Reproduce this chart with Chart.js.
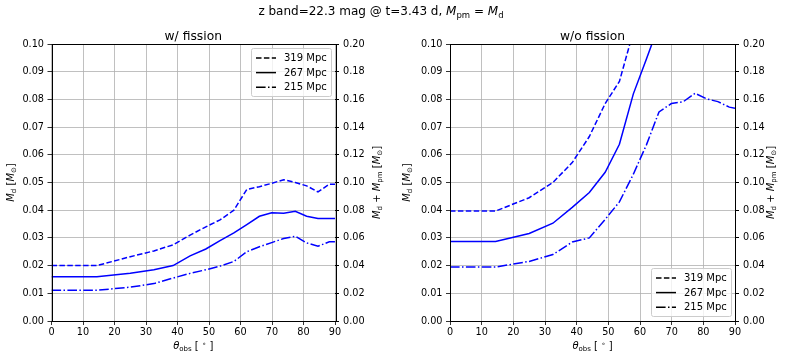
<!DOCTYPE html>
<html>
<head>
<meta charset="utf-8">
<script src="https://cdn.jsdelivr.net/npm/chart.js@4/dist/chart.umd.min.js"></script>
<style>
  body { margin: 0; background: #fff; font-family: "DejaVu Sans", sans-serif; }
  #wrap { position: relative; width: 788px; height: 360px; }
  canvas { position: absolute; top: 0; }
  #c1 { left: 0; }
  #c2 { left: 394px; }
  #title { position: absolute; top: 4px; left: -13px; width: 788px; text-align: center; font-size: 12px; color: #000; }
  #title sub { font-size: 8.5px; vertical-align: -3px; line-height: 0; }
</style>
</head>
<body>
<div id="wrap">
  <canvas id="c1" width="394" height="360"></canvas>
  <canvas id="c2" width="394" height="360"></canvas>
  <div id="title">z band=22.3 mag @ t=3.43 d, <i>M</i><sub>pm</sub> = <i>M</i><sub>d</sub></div>
</div>
<script>
// viewing angle (deg)
const theta = [0, 14.4, 25.0, 32.5, 38.6, 44.0, 49.0, 53.5, 57.9, 62.0, 66.0, 69.9, 73.7, 77.4, 81.0, 84.6, 88.2, 90];
const distances = ['319 Mpc', '267 Mpc', '215 Mpc'];

// w/ fission, M_d [Msun]
const fis319 = [0.020, 0.020, 0.0232, 0.0253, 0.0275, 0.031, 0.034, 0.0365, 0.040, 0.0475, 0.0485, 0.0497, 0.051, 0.050, 0.0488, 0.0466, 0.0494, 0.0494];
const fis267 = [0.016, 0.016, 0.0172, 0.0185, 0.020, 0.0235, 0.026, 0.029, 0.0318, 0.0348, 0.0378, 0.0391, 0.0389, 0.0396, 0.0378, 0.037, 0.037, 0.037];
const fis215 = [0.0111, 0.0111, 0.0122, 0.0135, 0.0155, 0.0172, 0.0185, 0.0198, 0.0215, 0.025, 0.0268, 0.0283, 0.0298, 0.0306, 0.0282, 0.027, 0.0286, 0.0286];

// w/o fission
const nofis319 = [0.0397, 0.0397, 0.0445, 0.050, 0.0572, 0.0666, 0.0785, 0.0865, 0.1045, null, null, null, null, null, null, null, null, null];
const nofis267 = [0.0287, 0.0287, 0.0316, 0.0353, 0.041, 0.0464, 0.0537, 0.0638, 0.082, 0.0945, 0.107, null, null, null, null, null, null, null];
const nofis215 = [0.0195, 0.0195, 0.0215, 0.024, 0.0285, 0.030, 0.0367, 0.043, 0.053, 0.0635, 0.0755, 0.0785, 0.0792, 0.0822, 0.0802, 0.0792, 0.0772, 0.0768];

const dashes = [[5.5, 2.4], [], [9.6, 2.4, 1.5, 2.4]];
const FONT = '"DejaVu Sans"';

function pts(arr) {
  return theta.map((t, i) => ({ x: t, y: arr[i] }));
}

// text with italic parts and subscripts
function richText(ctx, parts, x, y, size, rot) {
  ctx.save();
  ctx.translate(x, y);
  if (rot) ctx.rotate(rot);
  const fontFor = k => (k.includes('i') ? 'italic ' : '') + (k.includes('s') || k.includes('u') ? size * 0.7 : size) + 'px ' + FONT;
  let w = 0;
  for (const [t, k] of parts) { ctx.font = fontFor(k); w += ctx.measureText(t).width; }
  let cx = -w / 2;
  ctx.fillStyle = '#000';
  ctx.textBaseline = 'alphabetic';
  ctx.textAlign = 'left';
  for (const [t, k] of parts) {
    ctx.font = fontFor(k);
    let dy = 0;
    if (k.includes('s')) dy = size * 0.22;
    if (k.includes('u')) dy = -size * 0.35;
    ctx.fillText(t, cx, dy);
    cx += ctx.measureText(t).width;
  }
  ctx.restore();
}

const decor = {
  id: 'decor',
  afterDraw(chart, args, o) {
    const ctx = chart.ctx;
    const a = chart.chartArea;
    ctx.save();
    // frame
    ctx.strokeStyle = '#000';
    ctx.lineWidth = 1;
    ctx.strokeRect(Math.round(a.left) + 0.5, Math.round(a.top) + 0.5, Math.round(a.right - a.left), Math.round(a.bottom - a.top));
    // subplot title
    ctx.font = '12.3px ' + FONT;
    ctx.fillStyle = '#000';
    ctx.textAlign = 'center';
    ctx.textBaseline = 'alphabetic';
    ctx.fillText(o.title, (a.left + a.right) / 2, a.top - 4.5);
    // axis labels
    richText(ctx, [['θ', 'i'], ['obs', 's'], [' [ ', ''], ['∘', 'u'], [' ]', '']], (a.left + a.right) / 2, 349, 10);
    richText(ctx, [['M', 'i'], ['d', 's'], [' [', ''], ['M', 'i'], ['⊙', 's'], [']', '']], o.leftX, (a.top + a.bottom) / 2, 10, -Math.PI / 2);
    richText(ctx, [['M', 'i'], ['d', 's'], [' + ', ''], ['M', 'i'], ['pm', 's'], [' [', ''], ['M', 'i'], ['⊙', 's'], [']', '']], o.rightX, (a.top + a.bottom) / 2, 10, -Math.PI / 2);
    // legend
    const bw = 80, bh = 48;
    const bx = a.right - 4 - bw;
    const by = o.legend === 'top' ? a.top + 4 : a.bottom - 5 - bh;
    ctx.fillStyle = 'rgba(255,255,255,0.8)';
    ctx.strokeStyle = '#cccccc';
    ctx.lineWidth = 1;
    ctx.beginPath();
    ctx.roundRect(bx + 0.5, by + 0.5, bw, bh, 2);
    ctx.fill();
    ctx.stroke();
    chart.data.datasets.forEach((ds, i) => {
      const ry = by + 10 + i * 14.6;
      ctx.strokeStyle = '#000';
      ctx.lineWidth = 1.5;
      ctx.setLineDash(ds.borderDash);
      ctx.beginPath();
      ctx.moveTo(bx + 5, ry);
      ctx.lineTo(bx + 25, ry);
      ctx.stroke();
      ctx.setLineDash([]);
      ctx.fillStyle = '#000';
      ctx.font = '10px ' + FONT;
      ctx.textAlign = 'left';
      ctx.textBaseline = 'middle';
      ctx.fillText(ds.label, bx + 33, ry + 0.5);
    });
    ctx.restore();
  }
};

function makeChart(id, series, o) {
  const tickFont = { family: FONT, size: 9.7 };
  return new Chart(document.getElementById(id), {
    type: 'line',
    data: {
      datasets: series.map((s, i) => ({
        label: distances[i],
        data: pts(s),
        borderColor: '#0000ff',
        borderWidth: 1.5,
        borderDash: dashes[i],
        pointRadius: 0,
        fill: false,
        tension: 0,
        clip: 0,
        yAxisID: 'y'
      }))
    },
    options: {
      responsive: false,
      animation: false,
      layout: { padding: { top: 44, left: 0, right: 0, bottom: 0 } },
      plugins: { legend: { display: false }, tooltip: { enabled: false }, decor: o },
      scales: {
        x: {
          type: 'linear', min: 0, max: 90,
          ticks: { stepSize: 10, color: '#000', font: tickFont, padding: 2 },
          grid: { color: '#b0b0b0', lineWidth: 0.8, tickColor: '#000', tickLength: 4 },
          border: { display: false },
          afterFit: s => { s.height = 39; }
        },
        y: {
          position: 'left', min: 0, max: 0.1,
          ticks: { stepSize: 0.01, color: '#000', font: tickFont, padding: 3.5, callback: v => v.toFixed(2) },
          grid: { color: '#b0b0b0', lineWidth: 0.8, tickColor: '#000', tickLength: 4 },
          border: { display: false },
          afterFit: s => { s.width = o.lw; }
        },
        y2: {
          position: 'right', min: 0, max: 0.2,
          ticks: { stepSize: 0.02, color: '#000', font: tickFont, padding: 4, callback: v => v.toFixed(2) },
          grid: { drawOnChartArea: false, tickColor: '#000', tickLength: 4 },
          border: { display: false },
          afterFit: s => { s.width = o.rw; }
        }
      }
    },
    plugins: [decor]
  });
}

makeChart('c1', [fis319, fis267, fis215], { title: 'w/ fission', legend: 'top', lw: 51.5, rw: 59, leftX: 14, rightX: 380 });
makeChart('c2', [nofis319, nofis267, nofis215], { title: 'w/o fission', legend: 'bottom', lw: 56, rw: 53, leftX: 16, rightX: 380 });
</script>
</body>
</html>
